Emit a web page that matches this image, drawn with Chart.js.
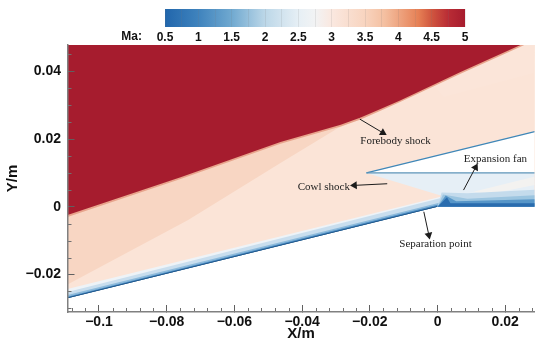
<!DOCTYPE html>
<html>
<head>
<meta charset="utf-8">
<script src="https://cdn.jsdelivr.net/npm/chart.js@4/dist/chart.umd.min.js"></script>
<style>
html, body { margin: 0; background: #fff; }
canvas { position: absolute; left: 0; top: 0; filter: blur(0.45px); }
</style>
</head>
<body>
<canvas id="fieldChart" width="550" height="345"></canvas>
<canvas id="barChart" width="550" height="46"></canvas>
<script>
// axis ticks
var xTicks = [-0.1, -0.08, -0.06, -0.04, -0.02, 0, 0.02];
var yTicks = [-0.02, 0, 0.02, 0.04];
var xMinor = [-0.108, -0.104, -0.096, -0.092, -0.088, -0.084, -0.076, -0.072, -0.068, -0.064, -0.056, -0.052, -0.048, -0.044, -0.036, -0.032, -0.028, -0.024, -0.016, -0.012, -0.008, -0.004, 0.004, 0.008, 0.012, 0.016, 0.024, 0.028];
var yMinor = [-0.03, -0.025, -0.015, -0.01, -0.005, 0.005, 0.01, 0.015, 0.025, 0.03, 0.035, 0.045];

// colour bar
var maTicks = [0.5, 0.75, 1, 1.25, 1.5, 1.75, 2, 2.25, 2.5, 2.75, 3, 3.25, 3.5, 3.75, 4, 4.25, 4.5, 4.75, 5];
var maLevels = [0.5, 1, 1.5, 2, 2.5, 2.75, 3, 3.5, 3.8, 4.3, 4.5, 4.75, 5];
var maColors = ['#2166ac', '#3f83bd', '#70a9d0', '#bcd7e8', '#e6eff5', '#f2f3f4', '#fae8e0', '#f8d4bf', '#f4bfa0', '#e68055', '#d0563f', '#b92c35', '#a61c2e'];

// flow regions, [x, y] in metres
var flowBase = [[-0.1093, -0.027], [0, 0], [0.0287, 0], [0.0287, 0.0478], [-0.1093, 0.0478]];
var rampFan = [[-0.1093, -0.023], [-0.0738, -0.004], [-0.0464, 0.0129], [-0.0295, 0.0232], [-0.0212, 0.0268], [-0.0109, 0.0315], [0.0068, 0.0398], [0.0245, 0.0478], [0.0287, 0.0478], [0.0287, 0], [0, 0], [-0.1093, -0.027]];
var upperPale = [[0.0018, 0.0324], [0.0284, 0.0395], [0.0287, 0.0478], [0.0245, 0.0478], [0.0068, 0.0398], [-0.0012, 0.0361]];
var shockEdge = [[-0.1093, -0.003], [-0.0759, 0.0082], [-0.0464, 0.0186], [-0.0286, 0.0237], [-0.0227, 0.0258], [-0.01684, 0.0284], [-0.0109, 0.031], [0.0068, 0.0393], [0.0245, 0.0473], [0.0256, 0.0478], [-0.1093, 0.0478]];
var freeStream = [[-0.1093, -0.00245], [-0.0759, 0.00869], [-0.0464, 0.0191], [-0.0286, 0.0242], [-0.0227, 0.02635], [-0.01684, 0.02886], [-0.0109, 0.0315], [0.0068, 0.0398], [0.0245, 0.0478], [-0.1093, 0.0478]];

var rampPaleEdge = [[-0.1093, -0.027], [0, 0], [0.0024, 0.0033], [-0.1093, -0.0243]];
var rampPale = [[-0.1093, -0.027], [0, 0], [0.0028, 0.003], [-0.1093, -0.0252]];
var rampMid = [[-0.1093, -0.027], [0, 0], [0.0026, 0.0017], [-0.1093, -0.0261]];
var rampBlue = [[-0.1093, -0.027], [0, 0], [0, 0.0006], [-0.1093, -0.0266]];
var rampDark = [[-0.1093, -0.027], [0, 0], [0, 0.0002], [-0.1093, -0.0268]];

var ductCore = [[-0.021, 0.01], [0.0287, 0.01], [0.0287, 0], [0.0024, 0], [0.0024, 0.0029]];
var ductPatch = [[0.0106, 0.0044], [0.0285, 0.0089], [0.0287, 0.0064], [0.015, 0.0037]];
var ductPale = [[0.0012, 0.0042], [0.0088, 0.004], [0.0287, 0.005], [0.0287, 0], [0, 0]];
var ductMid = [[0.0016, 0.0036], [0.0088, 0.0024], [0.0287, 0.0034], [0.0287, 0], [0, 0]];
var ductBlue = [[0.0024, 0.0033], [0.0055, 0.0016], [0.0287, 0.0022], [0.0287, 0], [0, 0]];
var ductDark = [[0.0028, 0.0028], [0.0038, 0.001], [0.0287, 0.001], [0.0287, 0], [0, 0]];

var cowlBody = [[-0.021, 0.01], [0.0287, 0.0222], [0.0287, 0.01]];
var cowlOuter = [[-0.021, 0.01], [0.0287, 0.0222]];
var cowlInner = [[-0.021, 0.01], [0.0287, 0.01]];

// annotations
var noteTexts = ['Forebody shock', 'Cowl shock', 'Expansion fan', 'Separation point'];
var noteX = [-0.0124, -0.0336, 0.0171, -0.0006];
var noteY = [0.0193, 0.0058, 0.0141, -0.0111];
var arrowForebody = [[-0.02295, 0.0259], [-0.01616, 0.02186]];
var arrowCowl = [[-0.01486, 0.0068], [-0.02452, 0.00632]];
var arrowSeparation = [[-0.00405, -0.00148], [-0.00257, -0.00836]];
var arrowExpansion = [[0.00768, 0.00493], [0.01123, 0.01164]];

var areaLayers = [
    [flowBase, '#f8d6c3'],
    [rampFan, '#fbe4d7'],
    [upperPale, '#fbe5d9'],
    [shockEdge, '#e8a48c'],
    [freeStream, '#a61c2e'],
    [rampPaleEdge, '#eef3f7'],
    [rampPale, '#c9deee'],
    [rampMid, '#8dbadb'],
    [rampBlue, '#4a8bc2'],
    [rampDark, '#174a7c'],
    [ductCore, '#e6eff6'],
    [ductPatch, '#f3f2f0'],
    [ductPale, '#c4dbec'],
    [ductMid, '#9cc5e0'],
    [ductBlue, '#5796c8'],
    [ductDark, '#2a6cae'],
    [cowlBody, '#ffffff']
];
var lineLayers = [
    [cowlOuter, '#3f87b8', 1.2],
    [cowlInner, '#5d94b8', 1.2]
];
var arrowLayers = [
    [arrowForebody, 121],
    [arrowCowl, 267],
    [arrowSeparation, 168],
    [arrowExpansion, 28]
];

function toPoints(list) {
    return list.map(function(p) { return {x: p[0], y: p[1]}; });
}

function axisLabel(value) {
    if (value === 0) return '0';
    var text = String(Math.abs(value));
    return value < 0 ? '\u2212' + text : text;
}

var fieldSets = [];
areaLayers.forEach(function(layer) {
    fieldSets.push({
        data: toPoints(layer[0]), showLine: true, fill: 'shape',
        backgroundColor: layer[1], borderWidth: 0, pointRadius: 0
    });
});
lineLayers.forEach(function(layer) {
    fieldSets.push({
        data: toPoints(layer[0]), showLine: true, fill: false,
        borderColor: layer[1], borderWidth: layer[2], pointRadius: 0
    });
});
arrowLayers.forEach(function(layer) {
    fieldSets.push({
        data: toPoints(layer[0]), showLine: true, fill: false,
        borderColor: '#1c1c1c', borderWidth: 1, backgroundColor: '#1c1c1c',
        pointStyle: 'triangle', pointRadius: [0, 4.5], pointBorderWidth: 0,
        pointRotation: layer[1]
    });
});
// first dataset goes at the bottom
fieldSets.forEach(function(set, i) { set.order = fieldSets.length - i; });

var minorTickPlugin = {
    id: 'minorTicks',
    afterDatasetsDraw: function(chart) {
        var c = chart.ctx, sx = chart.scales.x, sy = chart.scales.y;
        c.save();
        c.strokeStyle = '#707070';
        c.lineWidth = 1;
        c.beginPath();
        xMinor.forEach(function(v) {
            var px = Math.round(sx.getPixelForValue(v)) + 0.5;
            c.moveTo(px, sy.bottom);
            c.lineTo(px, sy.bottom - 4);
        });
        yMinor.forEach(function(v) {
            var py = Math.round(sy.getPixelForValue(v)) + 0.5;
            c.moveTo(sx.left, py);
            c.lineTo(sx.left + 4, py);
        });
        c.stroke();
        c.restore();
    }
};

var notePlugin = {
    id: 'notes',
    afterDatasetsDraw: function(chart) {
        var c = chart.ctx;
        c.save();
        c.font = '11px "Liberation Serif"';
        c.fillStyle = '#222';
        c.textAlign = 'center';
        c.textBaseline = 'middle';
        noteTexts.forEach(function(t, i) {
            c.fillText(t, chart.scales.x.getPixelForValue(noteX[i]), chart.scales.y.getPixelForValue(noteY[i]));
        });
        c.restore();
    }
};

var fieldChart = new Chart(document.getElementById('fieldChart').getContext('2d'), {
    type: 'scatter',
    data: {datasets: fieldSets},
    plugins: [minorTickPlugin, notePlugin],
    options: {
        responsive: false,
        animation: false,
        layout: {padding: {top: 45, right: 15.3, left: 0, bottom: 2}},
        plugins: {legend: {display: false}, tooltip: {enabled: false}},
        scales: {
            x: {
                type: 'linear', min: -0.1093, max: 0.0287,
                afterBuildTicks: function(s) { s.ticks = xTicks.map(function(v) { return {value: v}; }); },
                afterFit: function(s) { s.height = 31; },
                grid: {drawOnChartArea: false, tickLength: -7, tickColor: '#606060', z: 1},
                // border z has to match the grid or the line lands at 0
                border: {color: '#808080', width: 1.5, z: 1},
                ticks: {
                    padding: 9, color: '#111', maxRotation: 0, autoSkip: false,
                    font: {family: '"Liberation Sans"', size: 14, weight: 'bold'},
                    callback: axisLabel
                },
                title: {display: true, text: 'X/m', color: '#111', padding: {top: 0, bottom: 0}, font: {family: '"Liberation Sans"', size: 15, weight: 'bold'}}
            },
            y: {
                type: 'linear', min: -0.0311, max: 0.0478,
                afterBuildTicks: function(s) { s.ticks = yTicks.map(function(v) { return {value: v}; }); },
                afterFit: function(s) { s.width = 67.5; },
                grid: {drawOnChartArea: false, tickLength: -7, tickColor: '#606060', z: 1},
                border: {color: '#808080', width: 1.5, z: 1},
                ticks: {
                    padding: 13.5, color: '#111', autoSkip: false,
                    font: {family: '"Liberation Sans"', size: 14, weight: 'bold'},
                    callback: axisLabel
                },
                title: {display: true, text: 'Y/m', color: '#111', padding: {top: 4, bottom: 0}, font: {family: '"Liberation Sans"', size: 15, weight: 'bold'}}
            }
        }
    }
});

var maLabelPlugin = {
    id: 'maLabel',
    afterDraw: function(chart) {
        var c = chart.ctx;
        c.save();
        c.font = 'bold 12px "Liberation Sans"';
        c.fillStyle = '#111';
        c.textAlign = 'center';
        c.textBaseline = 'middle';
        c.fillText('Ma:', chart.scales.x.getPixelForValue(0), 37);
        c.restore();
    }
};

var barChart = new Chart(document.getElementById('barChart').getContext('2d'), {
    type: 'bar',
    data: {
        labels: ['Ma'],
        datasets: [{
            data: [[maLevels[0], maLevels[maLevels.length - 1]]],
            barPercentage: 1,
            categoryPercentage: 1,
            backgroundColor: function(context) {
                var area = context.chart.chartArea;
                if (!area) return maColors[0];
                var g = context.chart.ctx.createLinearGradient(area.left, 0, area.right, 0);
                maLevels.forEach(function(v, i) { g.addColorStop((v - 0.5) / 4.5, maColors[i]); });
                return g;
            }
        }]
    },
    plugins: [maLabelPlugin],
    options: {
        indexAxis: 'y',
        responsive: false,
        animation: false,
        layout: {padding: {top: 9, left: 165, right: 85, bottom: 0}},
        plugins: {legend: {display: false}, tooltip: {enabled: false}},
        scales: {
            y: {display: false},
            x: {
                type: 'linear', min: 0.5, max: 5,
                afterBuildTicks: function(s) { s.ticks = maTicks.map(function(v) { return {value: v}; }); },
                afterFit: function(s) { s.height = 19; },
                grid: {color: 'rgba(120,120,120,0.14)', drawTicks: false, z: 1},
                border: {display: false},
                ticks: {
                    padding: 3, color: '#111', maxRotation: 0, autoSkip: false,
                    font: {family: '"Liberation Sans"', size: 12, weight: 'bold'},
                    callback: function(v) { return (v * 2) % 1 === 0 ? String(v) : ''; }
                }
            }
        }
    }
});
</script>
</body>
</html>
